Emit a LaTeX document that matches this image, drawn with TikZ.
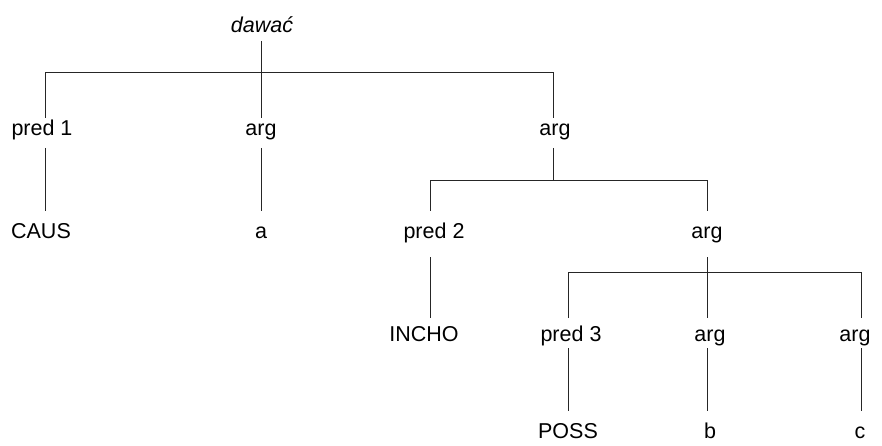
\documentclass[tikz,border=0pt]{standalone}
\usepackage{fontspec}
\setmainfont{Liberation Sans}
\begin{document}
\begin{tikzpicture}[x=1pt,y=-1pt,
  lbl/.style={anchor=base,inner sep=0pt,outer sep=0pt,font=\fontsize{21.5}{26}\selectfont},
  conn/.style={draw=black!85,line width=0.9pt}]
\useasboundingbox (0,0) rectangle (882,446);
% nodes
\node[lbl,font=\fontsize{21.5}{26}\selectfont\itshape] (dawac) at (262,33) {dawać};
\node[lbl] (pred1) at (42,136) {pred 1};
\node[lbl] (arg1a) at (261,136) {arg};
\node[lbl] (arg1b) at (555,136) {arg};
\node[lbl] (caus) at (41,238) {CAUS};
\node[lbl] (a) at (261,238) {a};
\node[lbl] (pred2) at (434,238) {pred 2};
\node[lbl] (arg2) at (707,238) {arg};
\node[lbl] (incho) at (424,341) {INCHO};
\node[lbl] (pred3) at (571,341) {pred 3};
\node[lbl] (arg3b) at (710,341) {arg};
\node[lbl] (arg3c) at (855,341) {arg};
\node[lbl] (poss) at (568,438) {POSS};
\node[lbl] (b) at (710,438) {b};
\node[lbl] (c) at (860,438) {c};
% level 0
\draw[conn] ([xshift=-1pt,yshift=-8pt]dawac.base) -- ([yshift=18pt]arg1a.base);
\draw[conn] ([xshift=3pt,yshift=18pt]pred1.base) -- ++(0,-46) -| ([xshift=-2pt,yshift=18pt]arg1b.base);
% level 1
\draw[conn] ([xshift=3pt,yshift=-12pt]pred1.base) -- ([xshift=4pt,yshift=27pt]caus.base);
\draw[conn] ([yshift=-12pt]arg1a.base) -- ([yshift=27pt]a.base);
\draw[conn] ([xshift=-2pt,yshift=-12pt]arg1b.base) -- ++(0,32);
\draw[conn] ([xshift=-4pt,yshift=27pt]pred2.base) -- ++(0,-31) -| ([yshift=27pt]arg2.base);
% level 2
\draw[conn] ([xshift=-4pt,yshift=-19pt]pred2.base) -- ([xshift=6pt,yshift=23pt]incho.base);
\draw[conn] ([yshift=-19pt]arg2.base) -- ([xshift=-3pt,yshift=23pt]arg3b.base);
\draw[conn] ([xshift=-3pt,yshift=23pt]pred3.base) -- ++(0,-46) -| ([xshift=6pt,yshift=23pt]arg3c.base);
% level 3
\draw[conn] ([xshift=-3pt,yshift=-7pt]pred3.base) -- ([yshift=27pt]poss.base);
\draw[conn] ([xshift=-3pt,yshift=-7pt]arg3b.base) -- ([xshift=-3pt,yshift=27pt]b.base);
\draw[conn] ([xshift=6pt,yshift=-7pt]arg3c.base) -- ([xshift=1pt,yshift=27pt]c.base);
\end{tikzpicture}
\end{document}
